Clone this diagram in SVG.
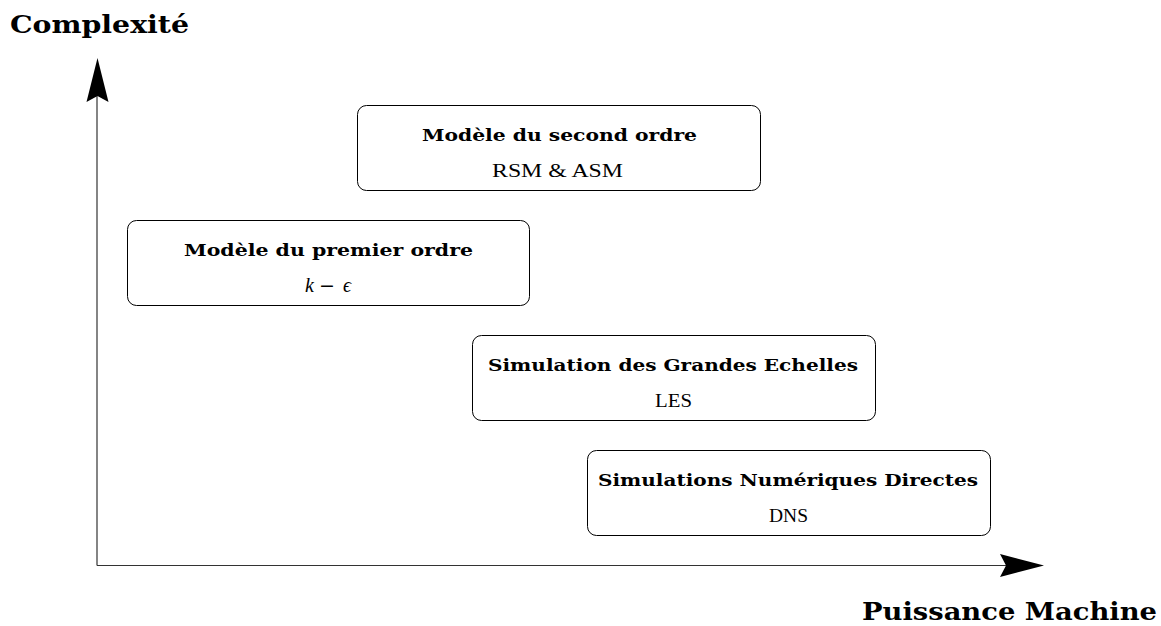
<svg xmlns="http://www.w3.org/2000/svg" width="1161" height="626" viewBox="0 0 1161 626">
<style>
.box{fill:#fff;stroke:#000;stroke-width:1}
.t{font-family:"DejaVu Serif","Liberation Serif",serif;font-weight:bold;font-size:16.5px;text-anchor:middle;fill:#000}
.s{font-family:"Liberation Serif",serif;font-size:18px;text-anchor:middle;fill:#000}
.m{font-family:"Liberation Serif",serif;font-style:italic;font-size:20px;fill:#000}
.ax{font-family:"DejaVu Serif","Liberation Serif",serif;font-weight:bold;font-size:24px;fill:#000}
.axis{stroke:#333;stroke-width:1.2;fill:none}
.head{fill:#000;stroke:none}
</style>
<rect width="1161" height="626" fill="#fff"/>
<g id="connectors">
<line class="axis" x1="97" y1="565.5" x2="97" y2="92"/>
<line class="axis" x1="97" y1="565.5" x2="1010" y2="565.5"/>
<path class="head" d="M97.5,58 L108.5,102 L97.5,96 L86.5,102 Z"/>
<path class="head" d="M1044,565.5 L1000,554 L1006,565.5 L1000,577 Z"/>
</g>
<g id="axis-y-label"><text class="ax" x="10" y="33" textLength="179" lengthAdjust="spacingAndGlyphs">Complexité</text></g>
<g id="axis-x-label"><text class="ax" x="862" y="620" textLength="295" lengthAdjust="spacingAndGlyphs">Puissance Machine</text></g>
<g id="node-second-ordre">
<rect class="box" x="357.5" y="105.5" width="403" height="85" rx="9"/>
<text class="t" x="559.5" y="141" textLength="275" lengthAdjust="spacingAndGlyphs">Modèle du second ordre</text>
<text class="s" x="557.5" y="177" textLength="131" lengthAdjust="spacingAndGlyphs">RSM &amp; ASM</text>
</g>
<g id="node-premier-ordre">
<rect class="box" x="127.5" y="220.5" width="402" height="85" rx="9"/>
<text class="m" x="305" y="292">k<tspan font-style="normal" font-family="DejaVu Sans, sans-serif" font-size="19" x="319">−</tspan><tspan x="343">ϵ</tspan></text>
<text class="t" x="328.5" y="256" textLength="289" lengthAdjust="spacingAndGlyphs">Modèle du premier ordre</text>
</g>
<g id="node-les">
<rect class="box" x="472.5" y="335.5" width="403" height="85" rx="9"/>
<text class="t" x="673" y="371" textLength="370" lengthAdjust="spacingAndGlyphs">Simulation des Grandes Echelles</text>
<text class="s" x="673.5" y="407" textLength="37" lengthAdjust="spacingAndGlyphs">LES</text>
</g>
<g id="node-dns">
<rect class="box" x="587.5" y="450.5" width="403" height="85" rx="9"/>
<text class="t" x="788" y="486" textLength="380" lengthAdjust="spacingAndGlyphs">Simulations Numériques Directes</text>
<text class="s" x="788.5" y="522" textLength="39" lengthAdjust="spacingAndGlyphs">DNS</text>
</g>
</svg>
